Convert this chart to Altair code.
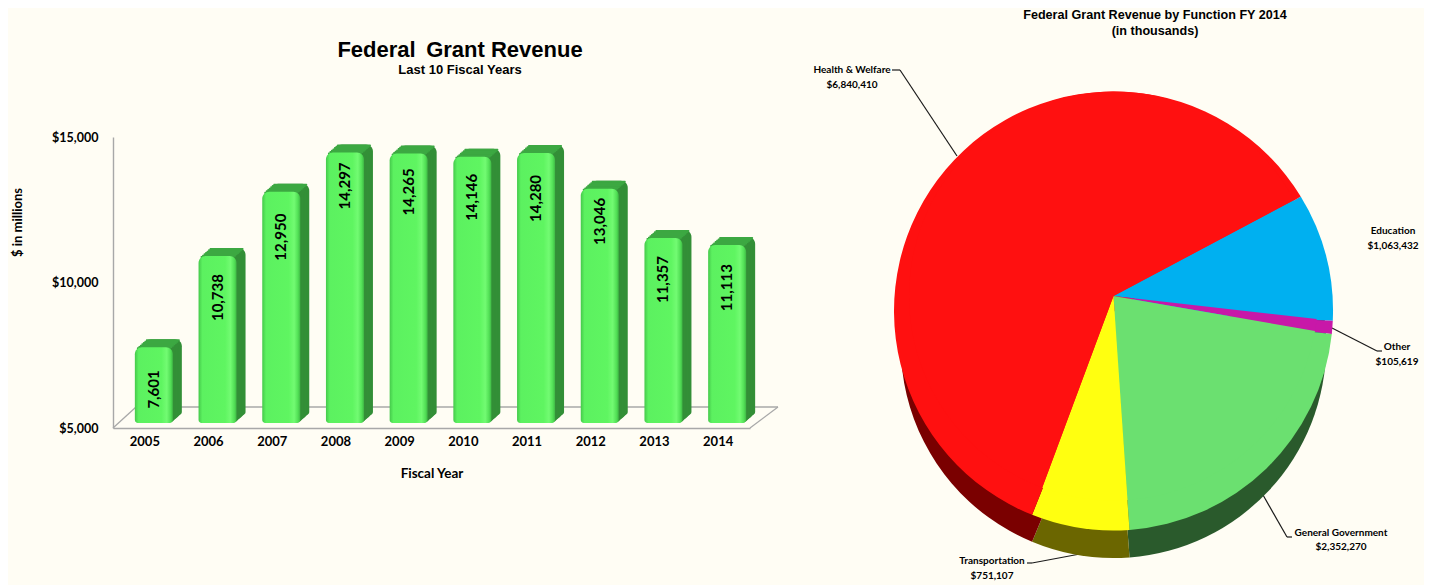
import math
import altair as alt
import pandas as pd

years = ["2005","2006","2007","2008","2009","2010","2011","2012","2013","2014"]
grants = [7601,10738,12950,14297,14265,14146,14280,13046,11357,11113]
functions = ["Education","Other","General Government","Transportation","Health & Welfare"]
revenue = [1063432,105619,2352270,751107,6840410]
face_colors = ["#00b0f0","#c818a8","#6be070","#ffff10","#ff1010"]
side_colors = ["#005a7a","#640c54","#2a5a2c","#6b6600","#7a0000"]

BG = "#fffdf4"
FONT = "Lato"
W, H = 1416, 577

# page pixel -> chart pixel
px = lambda v: v - 8

def txt(s, x, y, size, font=FONT, weight="bold"):
    return alt.Chart(pd.DataFrame({"t": [s]})).mark_text(
        font=font, fontSize=size, fontWeight=weight, color="black", align="center", baseline="middle"
    ).encode(text="t:N", x=alt.value(px(x)), y=alt.value(px(y)))

def seg(x1, y1, x2, y2, color="#1a1a1a", width=1.2):
    return alt.Chart(pd.DataFrame({"a": [0]})).mark_rule(color=color, strokeWidth=width).encode(
        x=alt.value(px(x1)), x2=alt.value(px(x2)), y=alt.value(px(y1)), y2=alt.value(px(y2))
    )

# ---------- bar chart ----------
df = pd.DataFrame({"year": years, "grant": grants, "low": [5000]*len(years)})
df["label"] = df["grant"].map("{:,}".format)
xs = alt.Scale(domain=years, range=[px(113), px(750)], padding=0)
ys = alt.Scale(domain=[5000, 15000], range=[px(428), px(137)], nice=False)

x_enc = alt.X("year:N", scale=xs, title="Fiscal Year",
              axis=alt.Axis(offset=-(H-px(428)), labelAngle=0, ticks=False, domainColor="#a8a8a8", domainWidth=1.4,
                            labelFont=FONT, labelFontSize=13, labelFontWeight="bold", labelColor="black", labelPadding=7,
                            titleFont=FONT, titleFontSize=13.5, titleFontWeight="bold", titleColor="black", titlePadding=18))
y_enc = alt.Y("grant:Q", scale=ys, title="$ in millions",
              axis=alt.Axis(offset=-px(113), values=[5000,10000,15000], format="$,.0f", ticks=False, grid=False,
                            domainColor="#a8a8a8", domainWidth=1.4,
                            labelFont=FONT, labelFontSize=12.5, labelFontWeight="bold", labelColor="black", labelPadding=15,
                            titleFont=FONT, titleFontSize=13, titleFontWeight="bold", titleColor="black",
                            titleX=-89, titleY=214))

front_grad = alt.Gradient(
    gradient="linear", x1=0, x2=1, y1=0, y2=0,
    stops=[alt.GradientStop(offset=0, color="#45c94b"),
           alt.GradientStop(offset=0.1, color="#5cf160"),
           alt.GradientStop(offset=0.7, color="#5ff561"),
           alt.GradientStop(offset=0.84, color="#72fb72"),
           alt.GradientStop(offset=0.94, color="#52e056"),
           alt.GradientStop(offset=1, color="#3fb845")])

floor = [seg(113,428,136,407,"#a8a8a8",1.3), seg(136,407,778,407,"#a8a8a8",1.3), seg(778,407,750,428,"#a8a8a8",1.3)]

def bar(dx, dy, fill):
    return alt.Chart(df).mark_bar(size=38, xOffset=9+dx, yOffset=-5-dy, y2Offset=-5-dy, fill=fill,
        cornerRadiusTopLeft=7, cornerRadiusTopRight=7, cornerRadiusBottomLeft=3, cornerRadiusBottomRight=3).encode(
        x=x_enc, y=y_enc, y2="low:Q")

def cap(dx, dy, fill):
    return alt.Chart(df).mark_bar(size=34, xOffset=9+dx, yOffset=-5-dy, y2Offset=-3-dy, fill=fill,
        cornerRadius=1).encode(x=x_enc, y=y_enc, y2="grant:Q")

depth = [bar(k*1.5, k*8/6, "#338f37") for k in range(6, 0, -1)]
caps = [cap(k*1.5, k*8/6, "#3ca842") for k in range(6, -1, -1)]
front = bar(0, 0, front_grad)

# how far below the bar top each reference label starts, in pixels
label_drop = [23, 18, 22, 10, 15, 17, 22, 9, 18, 19]
labels = [
    alt.Chart(df.iloc[[i]]).mark_text(font=FONT, fontSize=15, fontWeight="bold", color="black", angle=270,
                                      align="right", baseline="middle", xOffset=9, yOffset=drop-5).encode(
        x=x_enc, y=y_enc, text="label:N")
    for i, drop in enumerate(label_drop)
]

# ---------- pie chart ----------
START = math.radians(62)
APEX = (1113.5, 296)
R, D = 219.5, 15
SIDE_R, SIDE_CY = 212.7, 345.3
total = sum(revenue)
t0, t1, r0, r1, s0, s1 = [], [], [], [], [], []

def rim(theta):
    r = -D*math.cos(theta) + math.sqrt(R*R - (D*math.sin(theta))**2)
    phi = math.atan2(r*math.sin(theta), D + r*math.cos(theta))
    while phi < theta - math.pi:
        phi += 2*math.pi
    return phi

def side(phi):
    turns = math.floor(phi/(2*math.pi))
    p = phi - turns*2*math.pi
    if math.cos(p) < 0:
        s = max(-1, min(1, R*math.sin(p)/SIDE_R))
        p = math.pi - math.asin(s)
    return p + turns*2*math.pi

acc = START
for v in revenue:
    nxt = acc + 2*math.pi*v/total
    t0.append(acc); t1.append(nxt); r0.append(rim(acc)); r1.append(rim(nxt))
    s0.append(side(r0[-1])); s1.append(side(r1[-1]))
    acc = nxt
pie = pd.DataFrame({"name": functions, "t0": t0, "t1": t1, "r0": r0, "r1": r1, "s0": s0, "s1": s1})

cy0 = APEX[1] + D
side_arc = alt.Chart(pie).mark_arc(radius=SIDE_R).encode(
    theta=alt.Theta("s0:Q", scale=None), theta2=alt.Theta2("s1:Q"),
    fill=alt.Fill("name:N", scale=alt.Scale(domain=functions, range=side_colors), legend=None),
    x=alt.value(px(APEX[0])), y=alt.value(px(SIDE_CY)))
face_arc = alt.Chart(pie).mark_arc(radius=R).encode(
    theta=alt.Theta("r0:Q", scale=None), theta2=alt.Theta2("r1:Q"),
    color=alt.Color("name:N", scale=alt.Scale(domain=functions, range=face_colors), legend=None),
    x=alt.value(px(APEX[0])), y=alt.value(px(cy0)))
hub_arc = alt.Chart(pie).mark_arc(radius=R - D).encode(
    theta=alt.Theta("t0:Q", scale=None), theta2=alt.Theta2("t1:Q"),
    color=alt.Color("name:N", scale=alt.Scale(domain=functions, range=face_colors), legend=None),
    x=alt.value(px(APEX[0])), y=alt.value(px(APEX[1])))

leaders = [
    seg(892,70,900,70), seg(900,70,957,156),
    seg(1332,328,1377,351), seg(1377,351,1382,351),
    seg(1263,495,1287,537), seg(1287,537,1292,537),
    seg(1080,554,1032,563), seg(1032,563,1027,563),
]
SZ = 10
texts = [
    txt("Federal\u2009 Grant Revenue", 460, 50, 22, "Liberation Sans"),
    txt("Last 10 Fiscal Years", 460, 70, 13, "Liberation Sans"),
    txt("Federal Grant Revenue by Function FY 2014", 1155, 15, 12.6, "Liberation Sans"),
    txt("(in thousands)", 1155, 31, 12.6, "Liberation Sans"),
    txt("Health & Welfare", 852, 70, SZ), txt("$6,840,410", 852, 85, SZ),
    txt("Education", 1393, 231, SZ), txt("$1,063,432", 1393, 246, SZ),
    txt("Other", 1397, 347, SZ), txt("$105,619", 1397, 362, SZ),
    txt("General Government", 1341, 533, SZ), txt("$2,352,270", 1341, 547, SZ),
    txt("Transportation", 992, 561, SZ), txt("$751,107", 992, 576, SZ),
]

chart = alt.layer(
    *floor, *depth, *caps, front, *labels,
    *leaders, side_arc, face_arc, hub_arc, *texts
).resolve_scale(color="independent", fill="independent").properties(
    width=W, height=H, padding=0, background=BG,
    autosize=alt.AutoSizeParams(type="none"),
).configure_view(stroke=None)

chart.save("out.html", embed_options={"renderer": "svg", "actions": False})
